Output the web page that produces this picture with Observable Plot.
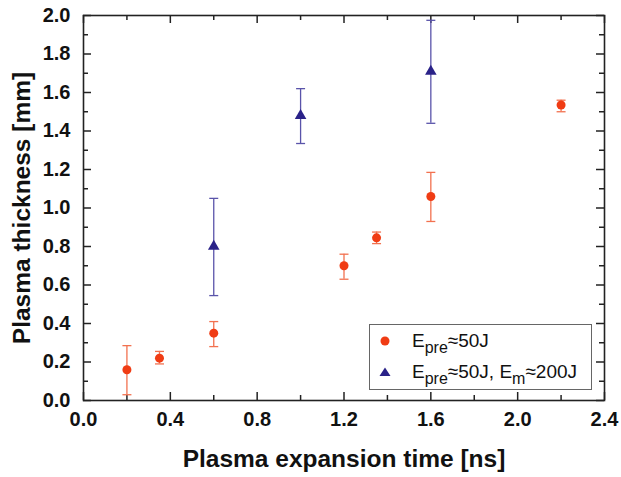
<!DOCTYPE html>
<html>
<head>
<meta charset="utf-8">
<script src="https://cdn.jsdelivr.net/npm/d3@7"></script>
<script src="https://cdn.jsdelivr.net/npm/@observablehq/plot@0.6"></script>
<style>
  html, body { margin: 0; padding: 0; background: #fff; }
  #wrap { position: relative; width: 621px; height: 477px; font-family: Arial, "Liberation Sans", sans-serif; }
  #legend { position: absolute; left: 369px; top: 324px; width: 221px; height: 64px; border: 1px solid #666; background: #fff; font-size: 19px; color: #111; }
  #legend .row { position: absolute; left: 0; height: 30px; display: flex; align-items: center; white-space: nowrap; }
  #legend svg { margin-left: 8px; margin-right: 20px; }
  #legend sub { font-size: 16px; vertical-align: -6px; line-height: 0; }
</style>
</head>
<body>
<div id="wrap">
  <div id="chart"></div>
  <div id="legend">
    <div class="row" style="top:1px"><svg width="14" height="14"><circle cx="7" cy="7" r="4.5" fill="#f03c14"></circle></svg><span>E<sub>pre</sub>≈50J</span></div>
    <div class="row" style="top:32px"><svg width="14" height="14"><path d="M7,2.5 L12.5,11 L1.5,11 Z" fill="#2a2288"></path></svg><span>E<sub>pre</sub>≈50J, E<sub>m</sub>≈200J</span></div>
  </div>
</div>
<script>
// Data: red circles (E_pre ≈ 50J)
const redX  = [0.2, 0.35, 0.6, 1.2, 1.35, 1.6, 2.2];
const redY  = [0.16, 0.22, 0.35, 0.70, 0.845, 1.06, 1.535];
const redLo = [0.03, 0.19, 0.28, 0.63, 0.815, 0.93, 1.50];
const redHi = [0.285, 0.255, 0.41, 0.76, 0.875, 1.185, 1.56];
// Data: blue triangles (E_pre ≈ 50J, E_m ≈ 200J)
const blueX  = [0.6, 1.0, 1.6];
const blueY  = [0.80, 1.48, 1.71];
const blueLo = [0.545, 1.335, 1.44];
const blueHi = [1.05, 1.62, 1.975];
// Ticks
const xMajor = [0.0, 0.4, 0.8, 1.2, 1.6, 2.0, 2.4];
const xMinor = [0.2, 0.6, 1.0, 1.4, 1.8, 2.2];
const yMajor = [0.0, 0.2, 0.4, 0.6, 0.8, 1.0, 1.2, 1.4, 1.6, 1.8, 2.0];
const yMinor = [0.1, 0.3, 0.5, 0.7, 0.9, 1.1, 1.3, 1.5, 1.7, 1.9];
const xTitle = "Plasma expansion time [ns]";
const yTitle = "Plasma thickness [mm]";

const red = redX.map((x, i) => ({x, y: redY[i], lo: redLo[i], hi: redHi[i]}));
const blue = blueX.map((x, i) => ({x, y: blueY[i], lo: blueLo[i], hi: blueHi[i]}));

const W = 621, H = 477, mL = 83, mR = 17, mT = 15, mB = 77;
const pw = W - mL - mR, ph = H - mT - mB;
const majLen = 8, minLen = 5;

const cap = {draw(ctx) { ctx.moveTo(-4.5, 0); ctx.lineTo(4.5, 0); }};

const redC = "#f03c14", redE = "#f2714f", blueC = "#2a2288", blueE = "#5a54aa";

const tickStyle = {stroke: "#222", strokeWidth: 1.5};

const chart = Plot.plot({
  width: W, height: H,
  marginLeft: mL, marginRight: mR, marginTop: mT, marginBottom: mB,
  style: {fontFamily: "Arial, 'Liberation Sans', sans-serif", background: "#fff", color: "#111"},
  x: {domain: [0, 2.4]},
  y: {domain: [0, 2.0]},
  marks: [
    // inward ticks: bottom
    Plot.tickX(xMajor, {x: d => d, insetTop: ph - majLen, ...tickStyle}),
    Plot.tickX(xMinor, {x: d => d, insetTop: ph - minLen, ...tickStyle}),
    // top
    Plot.tickX(xMajor, {x: d => d, insetBottom: ph - majLen, ...tickStyle}),
    Plot.tickX(xMinor, {x: d => d, insetBottom: ph - minLen, ...tickStyle}),
    // left
    Plot.tickY(yMajor, {y: d => d, insetRight: pw - majLen, ...tickStyle}),
    Plot.tickY(yMinor, {y: d => d, insetRight: pw - minLen, ...tickStyle}),
    // right
    Plot.tickY(yMajor, {y: d => d, insetLeft: pw - majLen, ...tickStyle}),
    Plot.tickY(yMinor, {y: d => d, insetLeft: pw - minLen, ...tickStyle}),
    Plot.frame({stroke: "#222", strokeWidth: 1.6}),
    Plot.axisX({ticks: xMajor, tickFormat: d3.format(".1f"), tickSize: 0, tickPadding: 11, fontSize: 20, fontWeight: "bold", label: null}),
    Plot.axisY({ticks: yMajor, tickFormat: d3.format(".1f"), tickSize: 0, tickPadding: 13, fontSize: 20, fontWeight: "bold", label: null}),
    Plot.text([xTitle], {text: d => d, frameAnchor: "bottom", dy: 66, fontSize: 24.5, fontWeight: "bold", fill: "#111"}),
    Plot.text([yTitle], {text: d => d, frameAnchor: "left", textAnchor: "middle", dx: -61, rotate: -90, fontSize: 24.5, fontWeight: "bold", fill: "#111"}),
    // red error bars
    Plot.ruleX(red, {x: "x", y1: "lo", y2: "hi", stroke: redE, strokeWidth: 1.3}),
    Plot.dot(red, {x: "x", y: "lo", symbol: cap, r: 4, stroke: redE, strokeWidth: 1.3, fill: "none"}),
    Plot.dot(red, {x: "x", y: "hi", symbol: cap, r: 4, stroke: redE, strokeWidth: 1.3, fill: "none"}),
    Plot.dot(red, {x: "x", y: "y", r: 4.5, fill: redC, stroke: "none"}),
    // blue error bars
    Plot.ruleX(blue, {x: "x", y1: "lo", y2: "hi", stroke: blueE, strokeWidth: 1.3}),
    Plot.dot(blue, {x: "x", y: "lo", symbol: cap, r: 4, stroke: blueE, strokeWidth: 1.3, fill: "none"}),
    Plot.dot(blue, {x: "x", y: "hi", symbol: cap, r: 4, stroke: blueE, strokeWidth: 1.3, fill: "none"}),
    Plot.dot(blue, {x: "x", y: "y", r: 4.3, symbol: "triangle", fill: blueC, stroke: "none"})
  ]
});
document.getElementById("chart").appendChild(chart);
</script>
</body>
</html>
